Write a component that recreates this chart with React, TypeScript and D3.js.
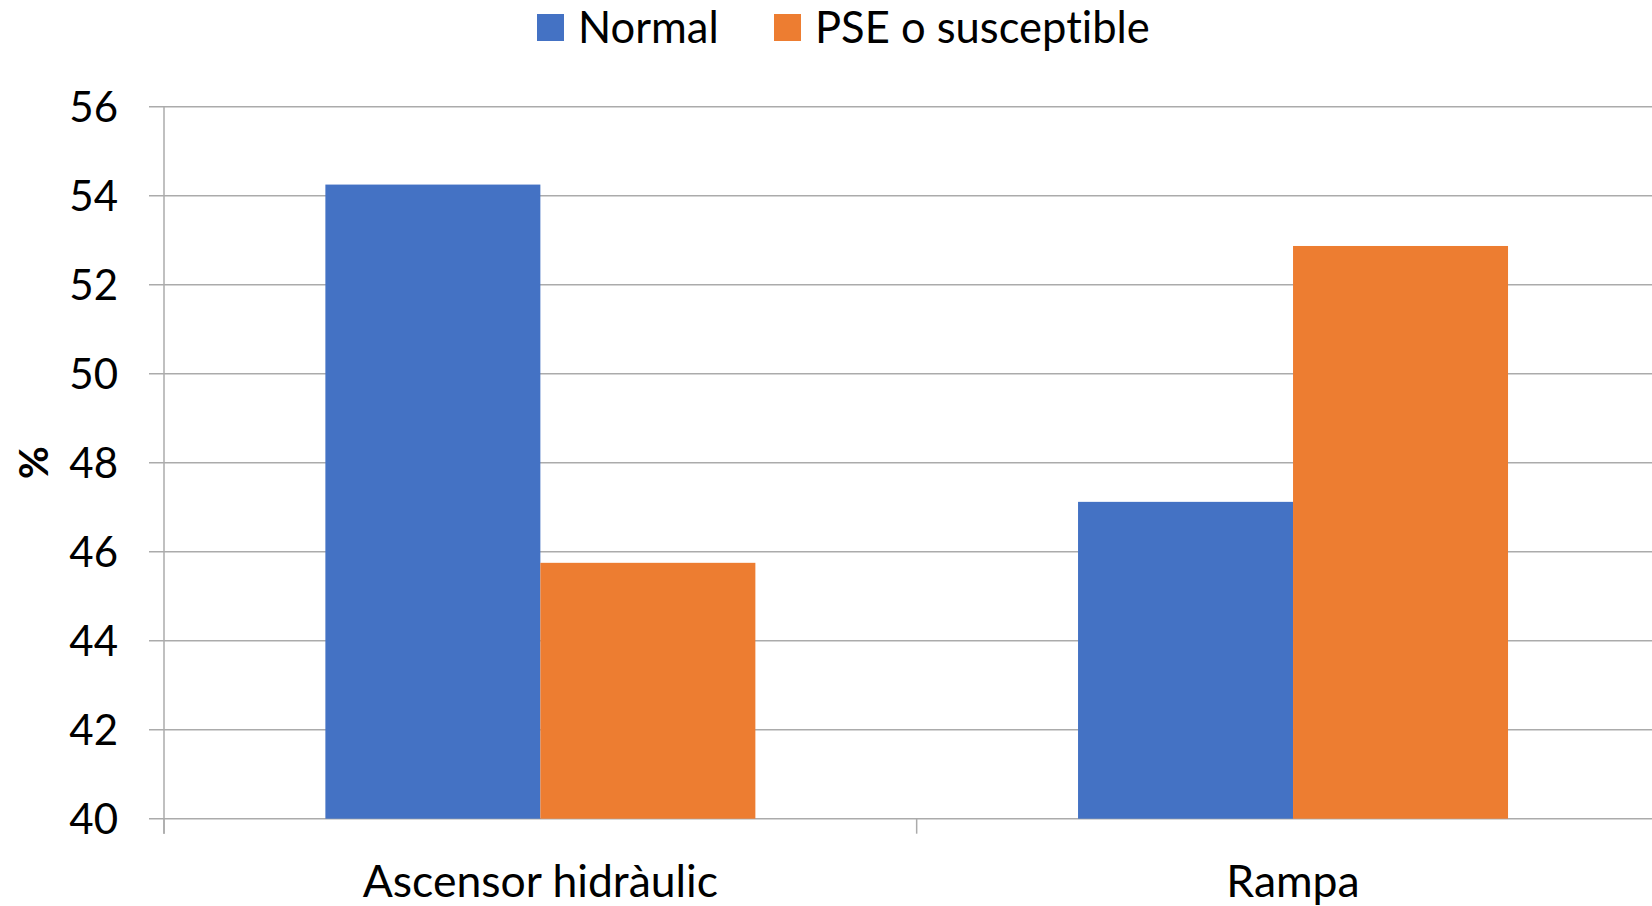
import * as d3 from "d3";

// chart data
const categories = ["Ascensor hidràulic", "Rampa"];
const seriesNames = ["Normal", "PSE o susceptible"];
const normalValues = [54.25, 47.12];
const pseValues = [45.75, 52.87];
const yTicks = [40, 42, 44, 46, 48, 50, 52, 54, 56];
const colors = ["#4472C4", "#ED7D31"];

const W = 1652;
const H = 906;
const FONT = "Lato, 'Noto Sans', sans-serif";
const GRID = "#ababab";

export default function App() {
  const left = 164;
  const bottom = 818.7;
  const top = 106.7;
  const catStep = 752.7;

  const y = d3.scaleLinear().domain([40, 56]).range([bottom, top]);
  const x = d3
    .scaleBand<string>()
    .domain(categories)
    .range([left, left + catStep * categories.length])
    .paddingInner(0.4287)
    .paddingOuter(0.2144);
  const xs = d3
    .scaleBand<string>()
    .domain(seriesNames)
    .range([0, x.bandwidth()]);

  const series = [normalValues, pseValues];

  // category boundaries for x ticks
  const boundaries = d3.range(categories.length + 1).map((i) => left + i * x.step());

  return (
    <svg
      width={W}
      height={H}
      style={{
        position: "absolute",
        left: 0,
        top: 0,
        background: "#fff",
        fontVariantLigatures: "none",
      }}
      fontFamily={FONT}
    >
      {/* gridlines + y ticks */}
      {yTicks.map((t) => (
        <line
          key={t}
          x1={left - 15}
          x2={W}
          y1={y(t)}
          y2={y(t)}
          stroke={GRID}
          strokeWidth={1.5}
        />
      ))}
      <line x1={left} x2={left} y1={top} y2={bottom + 15} stroke={GRID} strokeWidth={1.5} />
      {boundaries.map((b, i) => (
        <line key={i} x1={b} x2={b} y1={bottom} y2={bottom + 15} stroke={GRID} strokeWidth={1.5} />
      ))}

      {/* bars */}
      {categories.map((c, ci) =>
        seriesNames.map((s, si) => (
          <rect
            key={c + s}
            x={x(c)! + xs(s)!}
            y={y(series[si][ci])}
            width={xs.bandwidth()}
            height={bottom - y(series[si][ci])}
            fill={colors[si]}
          />
        ))
      )}

      {/* y tick labels */}
      {yTicks.map((t) => (
        <text
          key={t}
          x={118}
          y={y(t)}
          dy="0.36em"
          textAnchor="end"
          fontSize={42}
          fill="#000"
        >
          {t}
        </text>
      ))}

      {/* x labels */}
      {categories.map((c) => (
        <text
          key={c}
          x={x(c)! + x.bandwidth() / 2}
          y={897}
          textAnchor="middle"
          fontSize={44.5}
          fill="#000"
        >
          {c}
        </text>
      ))}

      {/* y axis title */}
      <text
        transform={`translate(48,${y(48)}) rotate(-90)`}
        textAnchor="middle"
        fontSize={40}
        fontWeight="bold"
        fill="#000"
      >
        %
      </text>

      {/* legend */}
      {seriesNames.map((s, i) => {
        const lx = [537, 774][i];
        return (
          <g key={s}>
            <rect x={lx} y={14} width={27} height={27} fill={colors[i]} />
            <text x={lx + 41} y={43} fontSize={43.5} fill="#000">
              {s}
            </text>
          </g>
        );
      })}
    </svg>
  );
}
